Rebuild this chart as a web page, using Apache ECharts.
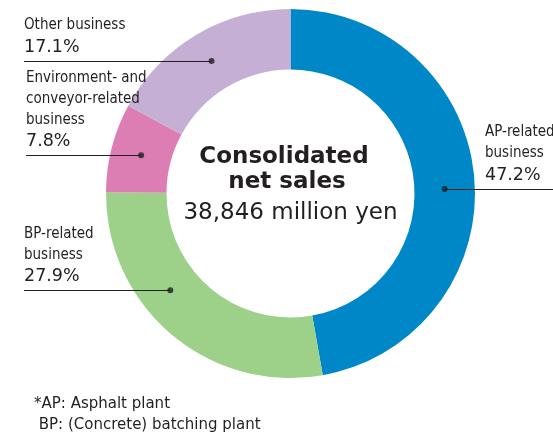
<!DOCTYPE html>
<html>
<head>
<meta charset="utf-8">
<script src="https://cdn.jsdelivr.net/npm/echarts@6/dist/echarts.min.js"></script>
<style>
  html, body { margin: 0; padding: 0; background: #fff; }
  #chart { width: 553px; height: 436px; }
</style>
</head>
<body>
<div id="chart"></div>
<script>
// Segment names and their share of consolidated net sales (%)
const categories = [
  'AP-related\nbusiness',
  'BP-related\nbusiness',
  'Environment- and\nconveyor-related\nbusiness',
  'Other business'
];
const shares = [47.2, 27.9, 7.8, 17.1];

// Centre caption and footnote text
const centerTitle = ['Consolidated', 'net sales'];
const totalSales = '38,846 million yen';
const footnotes = ['*AP: Asphalt plant', ' BP: (Concrete) batching plant'];

// ---- layout & style ----
const CX = 290.5, CY = 193.5;          // ring centre
const R_OUT = 184.5, R_IN = 124;        // ring radii
const R_PIN = (R_OUT + R_IN) / 2;       // leader dot radius
const colors = ['#0087c7', '#9dd089', '#dc7db4', '#c6afd5'];
const INK = '#231f20';
// where along each segment (0..1, clockwise) the leader dot sits
const pinFrac = [0.52, 0.61, 0.5, 0.5];
// label text x and far end of leader line
const labelX = [485, 24, 26, 24];
const lineEndX = [553, 24, 26, 24];

const NAME_FONT = "'DejaVu Sans Condensed', sans-serif";
const NUM_FONT = "'DejaVu Sans', sans-serif";

// clockwise position (in % of the circle, 0 = top) of each leader dot
const starts = shares.map((_, i) => shares.slice(0, i).reduce((a, b) => a + b, 0));
const pinPct = shares.map((v, i) => starts[i] + pinFrac[i] * v);
function pinPixel(i) {
  const t = pinPct[i] / 100 * Math.PI * 2;
  return [CX + R_PIN * Math.sin(t), CY - R_PIN * Math.cos(t)];
}

// horizontal leader lines, from each dot out to the label column
const leaders = shares.map((_, i) => {
  const [px, py] = pinPixel(i);
  const y = Math.round(py) + 0.5;
  return {
    type: 'line',
    z: 20,
    silent: true,
    shape: { x1: px, y1: y, x2: lineEndX[i], y2: y },
    style: { stroke: INK, lineWidth: 1 }
  };
});

const chart = echarts.init(document.getElementById('chart'), null, { renderer: 'canvas' });

chart.setOption({
  animation: false,
  backgroundColor: '#fff',
  title: [
    {
      text: '{a1|' + centerTitle[0] + '}\n{a2|' + centerTitle[1] + '}\n{b|' + totalSales + '}',
      left: 286,
      top: 140,
      textAlign: 'center',
      textStyle: {
        rich: {
          a1: { fontFamily: NUM_FONT, fontWeight: 'bold', fontSize: 23, lineHeight: 25, color: INK, align: 'center', padding: [0, 14, 0, 0] },
          a2: { fontFamily: NUM_FONT, fontWeight: 'bold', fontSize: 23, lineHeight: 25, color: INK, align: 'center', padding: [0, 8, 0, 0] },
          b: { fontFamily: NUM_FONT, fontWeight: 'normal', fontSize: 23, lineHeight: 30, color: INK, align: 'center', verticalAlign: 'bottom', padding: [0, 1, 0, 0] }
        }
      }
    },
    {
      text: footnotes.join('\n'),
      left: 34,
      top: 394,
      padding: 0,
      textStyle: { fontFamily: NUM_FONT, fontSize: 15, lineHeight: 21, fontWeight: 'normal', color: INK }
    }
  ],
  graphic: leaders,
  polar: { center: [CX, CY], radius: R_OUT },
  angleAxis: {
    type: 'value', min: 0, max: 100, startAngle: 90, clockwise: true,
    show: false
  },
  radiusAxis: { type: 'value', min: 0, max: R_OUT, show: false },
  series: [
    {
      type: 'pie',
      center: [CX, CY],
      radius: [R_IN, R_OUT],
      startAngle: 90,
      clockwise: true,
      avoidLabelOverlap: false,
      silent: true,
      itemStyle: { borderWidth: 0 },
      data: shares.map((v, i) => ({
        name: categories[i],
        value: v,
        itemStyle: { color: colors[i] }
      })),
      label: {
        show: true,
        position: 'outside',
        width: 220,
        formatter: p => p.name.split('\n').map(s => '{n|' + s + '}').join('\n') +
          '\n{p|' + p.value.toFixed(1) + '%}',
        rich: {
          n: { fontFamily: NAME_FONT, fontSize: 15, lineHeight: 21, color: INK },
          p: { fontFamily: NUM_FONT, fontSize: 17.5, lineHeight: 22, color: INK }
        }
      },
      labelLine: { show: false },
      labelLayout: params => {
        const i = params.dataIndex;
        const py = pinPixel(i)[1];
        return {
          x: labelX[i],
          y: py - 3,
          align: 'left',
          verticalAlign: 'bottom'
        };
      }
    },
    {
      type: 'scatter',
      coordinateSystem: 'polar',
      silent: true,
      symbol: 'circle',
      symbolSize: 6,
      itemStyle: { color: INK },
      z: 25,
      data: pinPct.map(a => [R_PIN, a])
    }
  ]
});
</script>
</body>
</html>
